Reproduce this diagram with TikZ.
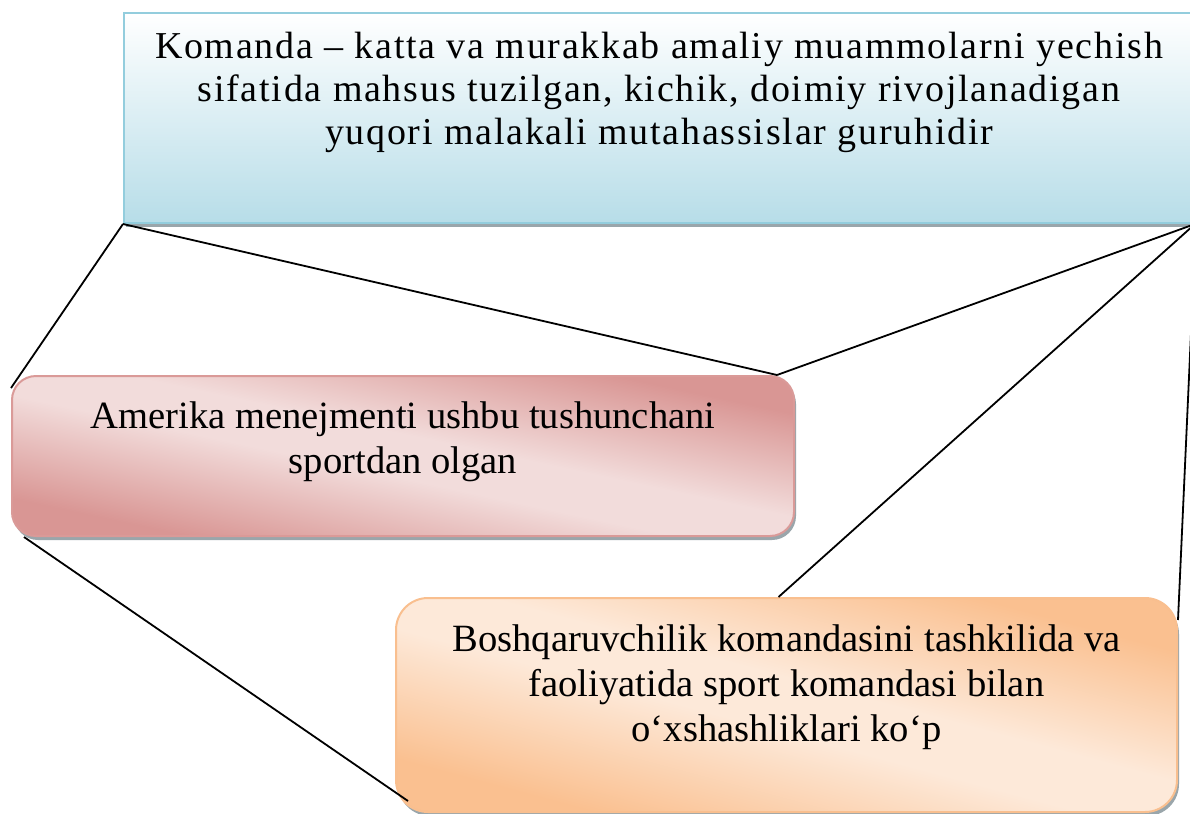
\documentclass[tikz,border=0pt]{standalone}
\usepackage{fontspec}
\setmainfont{Liberation Serif}
\newfontfamily\spacedfont[LetterSpace=4.6]{Liberation Serif}
\usetikzlibrary{positioning,shadows}
\definecolor{skyTop}{HTML}{FFFFFF}
\definecolor{skyBottom}{HTML}{B7DDE8}
\definecolor{skyEdge}{HTML}{93CDDD}
\definecolor{roseDark}{HTML}{D99694}
\definecolor{roseLight}{HTML}{F2DCDB}
\definecolor{roseEdge}{HTML}{DA9A98}
\definecolor{peachDark}{HTML}{FAC090}
\definecolor{peachLight}{HTML}{FDE9D9}
\definecolor{peachEdge}{HTML}{F9BF8F}
\definecolor{shadowGrey}{HTML}{9AA6AB}
\pgfdeclareverticalshading{roseDiag}{100bp}{color(0bp)=(roseDark); color(27bp)=(roseDark); color(46bp)=(roseLight); color(54bp)=(roseLight); color(73bp)=(roseDark); color(100bp)=(roseDark)}
\pgfdeclareverticalshading{peachDiag}{100bp}{color(0bp)=(peachDark); color(27bp)=(peachDark); color(46bp)=(peachLight); color(54bp)=(peachLight); color(73bp)=(peachDark); color(100bp)=(peachDark)}

\begin{document}
\begin{tikzpicture}[x=0.5pt,y=-0.5pt,every node/.style={inner sep=0pt},
    boxShadow/.style={drop shadow={shadow xshift=1pt,shadow yshift=-2pt,fill=shadowGrey,opacity=1}},
    bodyText/.style={align=center,font=\fontsize{19.3}{22.5}\selectfont}]
      \fill[white] (0,0) rectangle (1190,814);
      \clip (0,0) rectangle (1190,814);
      % boxes
      \node[anchor=north west,minimum width=535pt,minimum height=105pt,boxShadow,
        top color=skyTop,bottom color=skyBottom,draw=skyEdge,line width=1pt] (defn) at (123,12) {};
      \node[anchor=north west,minimum width=391pt,minimum height=80pt,rounded corners=12pt,boxShadow,
        shade,shading=roseDiag,shading angle=-12,draw=roseEdge,line width=1pt] (rose) at (11,375) {};
      \node[anchor=north west,minimum width=390.5pt,minimum height=107pt,rounded corners=16pt,boxShadow,
        shade,shading=peachDiag,shading angle=-15,draw=peachEdge,line width=1pt] (peach) at (395,597) {};
      % texts
      \node[below=10pt of defn.north,align=center,font=\spacedfont\fontsize{19}{21.5}\selectfont] (defnText)
        {Komanda – katta va murakkab amaliy muammolarni yechish\\
         sifatida mahsus tuzilgan, kichik, doimiy rivojlanadigan\\
         yuqori malakali mutahassislar guruhidir};
      \node[below=13pt of rose.north,bodyText] (roseText)
        {Amerika menejmenti ushbu tushunchani\\ sportdan olgan};
      \node[below=13.5pt of peach.north,bodyText] (peachText)
        {Boshqaruvchilik komandasini tashkilida va\\
         faoliyatida sport komandasi bilan\\
         o‘xshashliklari ko‘p};
      % connector ends
      \coordinate (roseTL) at ([yshift=-6.5pt]rose.north west);
      \coordinate (roseTR) at ([xshift=-9pt]rose.north east);
      \coordinate (roseBL) at ([xshift=6.5pt]rose.south west);
      \coordinate (peachTop) at ([xshift=-4pt]peach.north);
      \coordinate (peachTR) at ([yshift=-11.5pt]peach.north east);
      \coordinate (peachBL) at ([shift={(6.5pt,6pt)}]peach.south west);
      \coordinate (offEdge) at (1191,333);
      \foreach \a/\b in {defn.south west/roseTL, defn.south west/roseTR,
        defn.south east/roseTR, defn.south east/peachTop,
        offEdge/peachTR, roseBL/peachBL}{%
        \draw[line width=0.9pt] (\a) -- (\b);
      }
    \end{tikzpicture}
\end{document}
